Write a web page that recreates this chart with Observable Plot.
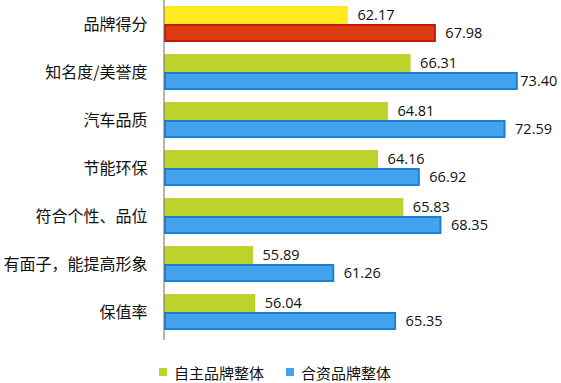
<!DOCTYPE html>
<html>
<head>
<meta charset="utf-8">
<script src="https://cdn.jsdelivr.net/npm/d3@7"></script>
<script src="https://cdn.jsdelivr.net/npm/@observablehq/plot@0.6"></script>
<style>
  body { margin: 0; background: #fff; }
  #legend { display: flex; align-items: center; height: 20px; margin-top: 7px; padding-left: 159px;
    font-family: "Noto Sans CJK SC", sans-serif; font-size: 15px; color: #111; }
  .item { display: flex; align-items: center; margin-right: 22px; }
  .sw { width: 8px; height: 8px; margin-right: 7px; }
</style>
</head>
<body>
<div id="chart"></div>
<div id="legend"></div>
<script>
const categories = ["品牌得分", "知名度/美誉度", "汽车品质", "节能环保", "符合个性、品位", "有面子，能提高形象", "保值率"];
const seriesNames = ["自主品牌整体", "合资品牌整体"];
const domestic = [62.17, 66.31, 64.81, 64.16, 65.83, 55.89, 56.04];
const joint = [67.98, 73.40, 72.59, 66.92, 68.35, 61.26, 65.35];

const fills = { "自主品牌整体": "#BDD22A", "合资品牌整体": "#44A3EE" };
const strokes = { "自主品牌整体": "#BDD22A", "合资品牌整体": "#1B82D2" };
const firstFills = { "自主品牌整体": "#FFEB1E", "合资品牌整体": "#E03C14" };
const firstStrokes = { "自主品牌整体": "#FFEB1E", "合资品牌整体": "#C8140A" };

const rows = [];
categories.forEach((c, i) => {
  rows.push({ category: c, series: seriesNames[0], value: domestic[i], idx: i });
  rows.push({ category: c, series: seriesNames[1], value: joint[i], idx: i });
});
const upperRows = rows.filter(d => d.series === seriesNames[0]);
const lowerRows = rows.filter(d => d.series === seriesNames[1]);
const lowerNear = lowerRows.filter(d => d.value < 73);
const lowerFar = lowerRows.filter(d => d.value >= 73);
const fillOf = d => d.idx === 0 ? firstFills[d.series] : fills[d.series];
const strokeOf = d => d.idx === 0 ? firstStrokes[d.series] : strokes[d.series];
const fmt = d => d.value.toFixed(2);
const labelStyle = { textAnchor: "start", fontSize: 14.5, fill: "#111", fontFamily: "'Open Sans', sans-serif" };

const chart = Plot.plot({
  width: 561,
  height: 355,
  marginLeft: 164,
  marginRight: 19,
  marginTop: 0,
  marginBottom: 15,
  style: { fontFamily: "'Noto Sans CJK SC', sans-serif", background: "#fff", overflow: "visible" },
  x: { domain: [50, 75], axis: null },
  y: { domain: categories, range: [0, 336], paddingInner: 0.25, paddingOuter: 0.125, label: null },
  color: { type: "identity" },
  marks: [
    Plot.barX(upperRows, { x1: 50, x2: "value", y: "category", fill: fillOf, insetBottom: 18, insetRight: 0 }),
    Plot.barX(lowerRows, { x1: 50, x2: "value", y: "category", fill: fillOf, stroke: strokeOf, strokeWidth: 2, insetTop: 19, insetBottom: 1, insetLeft: 1, insetRight: 1 }),
    Plot.text(upperRows, { x: "value", y: "category", text: fmt, dx: 9, dy: -9, ...labelStyle }),
    Plot.text(lowerNear, { x: "value", y: "category", text: fmt, dx: 9, dy: 9, ...labelStyle }),
    Plot.text(lowerFar, { x: "value", y: "category", text: fmt, dx: 2, dy: 9, ...labelStyle }),
    Plot.ruleX([50], { stroke: "#6b6b6b", strokeWidth: 1, dx: -0.5 }),
    Plot.axisY({ tickSize: 0, tickPadding: 17, fontSize: 16, fill: "#111", label: null })
  ]
});
document.getElementById("chart").appendChild(chart);

const legend = document.getElementById("legend");
seriesNames.forEach(s => {
  const it = document.createElement("div");
  it.className = "item";
  const sw = document.createElement("div");
  sw.className = "sw";
  sw.style.background = fills[s];
  const t = document.createElement("span");
  t.textContent = s;
  it.appendChild(sw); it.appendChild(t);
  legend.appendChild(it);
});
</script>
</body>
</html>
